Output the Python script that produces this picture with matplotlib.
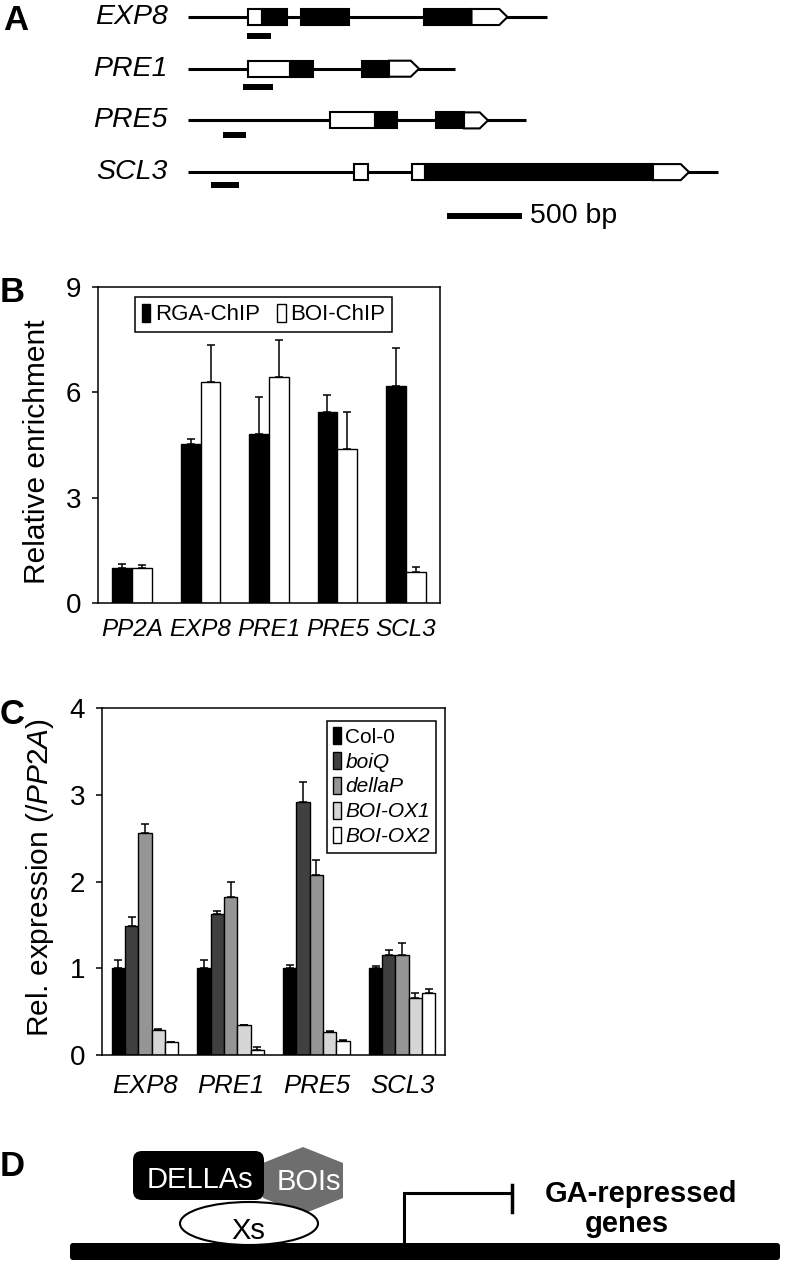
import numpy as np
import matplotlib
matplotlib.use('Agg')
import matplotlib.pyplot as plt
from matplotlib.patches import Rectangle, Polygon, FancyBboxPatch, Ellipse

plt.rcParams['font.family'] = ['Liberation Sans', 'DejaVu Sans']
plt.rcParams['mathtext.fontset'] = 'custom'
plt.rcParams['mathtext.rm'] = 'Liberation Sans'
plt.rcParams['mathtext.it'] = 'Liberation Sans:italic'

# ---- panel A: gene models, positions in bp from start of drawn region
genes = ['EXP8', 'PRE1', 'PRE5', 'SCL3']
gene_len = [2395, 1780, 2250, 3535]
# (start, end, kind): 'w' white box, 'b' black box, 'u' white box with arrow tip
exons = [
    [(400, 490, 'w'), (490, 660, 'b'), (750, 1070, 'b'), (1570, 1890, 'b'), (1890, 2130, 'u')],
    [(400, 680, 'w'), (680, 835, 'b'), (1160, 1340, 'b'), (1340, 1540, 'u')],
    [(945, 1245, 'w'), (1245, 1395, 'b'), (1655, 1840, 'b'), (1840, 2000, 'u')],
    [(1105, 1200, 'w'), (1495, 1580, 'w'), (1580, 3100, 'b'), (3100, 3340, 'u')],
]
probes = [(395, 555), (365, 565), (235, 385), (155, 340)]
probe_off = [0.37, 0.35, 0.28, 0.24]
scale_bp = 500

# ---- panel B: ChIP enrichment
chip_genes = ['PP2A', 'EXP8', 'PRE1', 'PRE5', 'SCL3']
rga = [1.0, 4.52, 4.80, 5.44, 6.18]
rga_err = [0.12, 0.15, 1.07, 0.48, 1.09]
boi = [1.0, 6.29, 6.45, 4.40, 0.87]
boi_err = [0.08, 1.06, 1.05, 1.04, 0.16]

# ---- panel C: expression
expr_genes = ['EXP8', 'PRE1', 'PRE5', 'SCL3']
lines = ['Col-0', 'boiQ', 'dellaP', 'BOI-OX1', 'BOI-OX2']
line_colors = ['#000000', '#404040', '#959595', '#d6d6d6', '#ffffff']
expr = [
    [1.00, 1.00, 1.00, 1.00],
    [1.49, 1.62, 2.92, 1.15],
    [2.56, 1.82, 2.08, 1.15],
    [0.29, 0.35, 0.26, 0.66],
    [0.15, 0.06, 0.16, 0.71],
]
expr_err = [
    [0.10, 0.10, 0.04, 0.03],
    [0.10, 0.04, 0.23, 0.06],
    [0.10, 0.17, 0.17, 0.14],
    [0.01, 0.00, 0.02, 0.05],
    [0.00, 0.03, 0.01, 0.05],
]

W, H = 797, 1264
fig = plt.figure(figsize=(W / 100, H / 100), dpi=100)

# overlay for letters and schematic D (pixel coordinates)
ov = fig.add_axes([0, 0, 1, 1])
ov.set_xlim(0, W)
ov.set_ylim(H, 0)
ov.axis('off')

for lab, (x, y) in zip('ABCD', [(3, 20), (0, 292), (0, 715), (0, 1166)]):
    ov.text(x, y, lab, fontsize=25, fontweight='bold', ha='left', va='center')

# ---- A
axA = fig.add_axes([0, 1 - 240 / H, 1, 240 / H])
px_per_bp = 0.15
x0 = 188
axA.set_xlim(-x0 / px_per_bp, (W - x0) / px_per_bp)
row_px = 51.7
axA.set_ylim((240 - 17) / row_px, -17 / row_px)
axA.axis('off')
hb = 0.155
tip = 55
for r, (g, L, ex) in enumerate(zip(genes, gene_len, exons)):
    axA.plot([0, L], [r, r], color='black', lw=2.2, solid_capstyle='butt', zorder=1)
    for s, e, k in ex:
        if k == 'u':
            pts = [(s, r - hb), (e - tip, r - hb), (e, r), (e - tip, r + hb), (s, r + hb)]
            axA.add_patch(Polygon(pts, closed=True, fc='white', ec='black', lw=1.5, zorder=2))
        else:
            axA.add_patch(Rectangle((s, r - hb), e - s, 2 * hb, fc='white' if k == 'w' else 'black',
                                    ec='black', lw=1.5, zorder=2))
    ps, pe = probes[r]
    axA.add_patch(Rectangle((ps, r + probe_off[r] - 0.058), pe - ps, 0.116, fc='black', ec='none'))
    axA.text(-133, r, g, fontsize=20.5, style='italic', ha='right', va='center')
sb_x = 1727
sb_y = (216 - 17) / row_px
axA.plot([sb_x, sb_x + scale_bp], [sb_y, sb_y], color='black', lw=4.3, solid_capstyle='butt')
axA.text(sb_x + scale_bp + 55, sb_y, '%d bp' % scale_bp, fontsize=20.5, ha='left', va='center')

ekw = dict(elinewidth=1.1, capthick=1.1, ecolor='black')

# ---- B
axB = fig.add_axes([98 / W, 1 - 603 / H, 342 / W, 316 / H])
xb = np.arange(len(chip_genes))
bw = 0.29
zeros = np.zeros(len(xb))
axB.bar(xb - bw / 2, rga, bw, color='black', edgecolor='black', lw=1.0,
        yerr=[zeros, rga_err], capsize=3.2, error_kw=ekw, label='RGA-ChIP')
axB.bar(xb + bw / 2, boi, bw, color='white', edgecolor='black', lw=1.0,
        yerr=[zeros, boi_err], capsize=3.2, error_kw=ekw, label='BOI-ChIP')
axB.set_xlim(-0.5, len(xb) - 0.5)
axB.set_ylim(0, 9)
axB.set_yticks([0, 3, 6, 9])
axB.set_xticks(xb)
axB.set_xticklabels(chip_genes, style='italic')
axB.tick_params(axis='y', direction='out', length=4, width=1.1, pad=8, labelsize=20)
axB.tick_params(axis='x', length=0, pad=11, labelsize=17.5)
for sp in axB.spines.values():
    sp.set_linewidth(1.1)
legB = axB.legend(loc='upper center', bbox_to_anchor=(0.484, 0.968), ncol=2, fontsize=16,
                  handlelength=0.38, handleheight=0.85, handletextpad=0.2, columnspacing=0.8,
                  borderpad=0.3, borderaxespad=0, fancybox=False, framealpha=1, edgecolor='black')
legB.get_frame().set_linewidth(1.1)
fig.text(37 / W, 1 - 452 / H, 'Relative enrichment', rotation=90, ha='center', va='center', fontsize=21.5)

# ---- C
axC = fig.add_axes([102 / W, 1 - 1055 / H, 343 / W, 347 / H])
xc = np.arange(len(expr_genes))
cw = 0.155
nl = len(lines)
for i in range(nl):
    off = (i - (nl - 1) / 2) * cw
    axC.bar(xc + off, expr[i], cw, color=line_colors[i], edgecolor='black', lw=1.0,
            yerr=[np.zeros(len(xc)), expr_err[i]], capsize=2.6, error_kw=ekw, label=lines[i])
axC.set_xlim(-0.5, len(xc) - 0.5)
axC.set_ylim(0, 4)
axC.set_yticks([0, 1, 2, 3, 4])
axC.set_xticks(xc)
axC.set_xticklabels(expr_genes, style='italic')
axC.tick_params(axis='y', direction='out', length=4, width=1.1, pad=8, labelsize=20)
axC.tick_params(axis='x', length=0, pad=14, labelsize=18.5)
for sp in axC.spines.values():
    sp.set_linewidth(1.1)
legC = axC.legend(loc='upper right', bbox_to_anchor=(0.974, 0.963), fontsize=15,
                  handlelength=0.38, handleheight=0.85, handletextpad=0.2, labelspacing=0.26,
                  borderpad=0.3, borderaxespad=0, fancybox=False, framealpha=1, edgecolor='black')
legC.get_frame().set_linewidth(1.1)
for t in legC.get_texts()[1:]:
    t.set_style('italic')
fig.text(40 / W, 1 - 878 / H, 'Rel. expression (/$\\mathit{PP2A}$)', rotation=90, ha='center',
         va='center', fontsize=21.5)

# ---- D schematic
ov.add_patch(FancyBboxPatch((70, 1243), 710, 17, boxstyle='round,pad=0,rounding_size=3',
                            fc='black', ec='none'))
hexagon = [(303, 1147), (343, 1163), (343, 1198), (303, 1214), (263, 1198), (263, 1163)]
ov.add_patch(Polygon(hexagon, closed=True, fc='#6e6e6e', ec='none'))
ov.add_patch(FancyBboxPatch((133, 1151), 131, 49, boxstyle='round,pad=0,rounding_size=9',
                            fc='black', ec='none'))
ov.add_patch(Ellipse((249, 1223.5), 138, 43, fc='white', ec='black', lw=1.5))
ov.text(200, 1180, 'DELLAs', color='white', fontsize=21, ha='center', va='center')
ov.text(309, 1182, 'BOIs', color='white', fontsize=21, ha='center', va='center')
ov.text(248, 1231, 'Xs', color='black', fontsize=21, ha='center', va='center')
ov.plot([404, 404, 512], [1244, 1193, 1193], color='black', lw=2.2, solid_joinstyle='miter')
ov.plot([512, 512], [1185, 1212], color='black', lw=2.5)
ov.text(641, 1194, 'GA-repressed', fontsize=21, fontweight='bold', ha='center', va='center')
ov.text(627, 1224, 'genes', fontsize=21, fontweight='bold', ha='center', va='center')

fig.savefig('out.png', dpi=100)
